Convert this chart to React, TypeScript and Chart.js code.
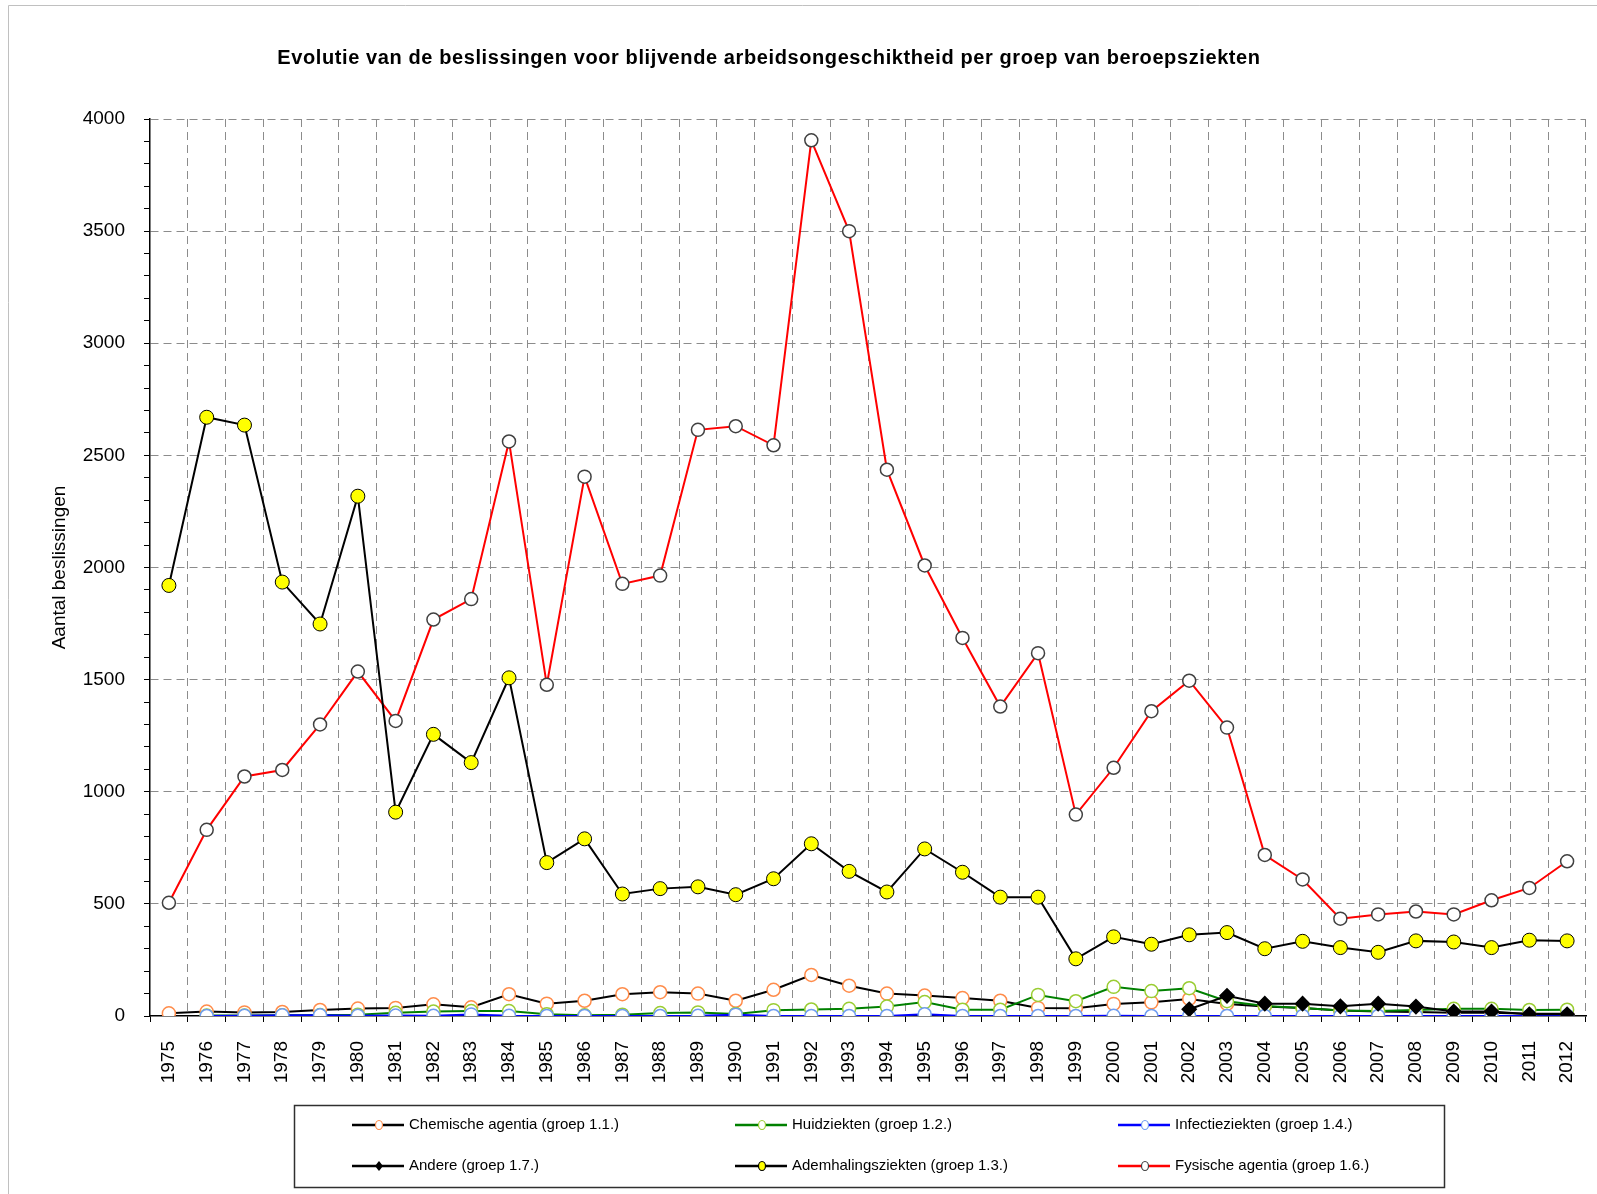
import React, { useEffect, useRef } from 'react';
import { Chart, registerables } from 'chart.js';

Chart.register(...registerables);

const FONT = '"Liberation Sans", Arial, sans-serif';

const chartTitle = 'Evolutie van de beslissingen voor blijvende arbeidsongeschiktheid per groep van beroepsziekten';
const yAxisTitle = 'Aantal beslissingen';

const years = [
  '1975', '1976', '1977', '1978', '1979', '1980', '1981', '1982', '1983', '1984',
  '1985', '1986', '1987', '1988', '1989', '1990', '1991', '1992', '1993', '1994',
  '1995', '1996', '1997', '1998', '1999', '2000', '2001', '2002', '2003', '2004',
  '2005', '2006', '2007', '2008', '2009', '2010', '2011', '2012',
];

const chemische = [
  12, 20, 16, 18, 27, 33, 36, 52, 39, 97,
  55, 68, 97, 106, 100, 68, 117, 183, 135, 100,
  91, 80, 68, 36, 35, 54, 61, 76, 54, 42,
  36, 25, 20, 18, 15, 14, 10, 10,
];

const huidziekten = [
  null, 2, 2, 3, 4, 6, 14, 20, 22, 22,
  8, 3, 6, 13, 16, 9, 26, 29, 32, 42,
  62, 28, 28, 94, 66, 130, 111, 124, 66, 45,
  36, 24, 22, 27, 32, 32, 27, 28,
];

const infectieziekten = [
  null, 0, 1, 3, 3, 1, 2, 1, 7, 1,
  0, 0, 0, 0, 1, 6, 0, 0, 0, 0,
  8, 0, 0, 0, 0, 1, 0, 0, 0, 0,
  0, 0, 0, 0, 0, 0, 0, 0,
];

const andere = [
  null, null, null, null, null, null, null, null, null, null,
  null, null, null, null, null, null, null, null, null, null,
  null, null, null, null, null, null, null, 30, 90, 55,
  55, 43, 55, 42, 20, 20, 8, 8,
];

const ademhalingsziekten = [
  1920, 2670, 2635, 1935, 1748, 2318, 909, 1256, 1130, 1508,
  684, 790, 544, 568, 576, 541, 612, 768, 645, 553,
  745, 641, 530, 530, 255, 353, 320, 362, 372, 300,
  333, 305, 284, 335, 330, 305, 338, 335,
];

const fysischeAgentia = [
  505, 830, 1068, 1097, 1300, 1536, 1316, 1768, 1859, 2562,
  1477, 2405, 1927, 1964, 2614, 2630, 2545, 3905, 3500, 2436,
  2009, 1686, 1380, 1618, 898, 1107, 1359, 1495, 1286, 718,
  609, 434, 453, 466, 453, 516, 571, 690,
];

const legendLabels = [
  'Chemische agentia (groep 1.1.)',
  'Huidziekten (groep 1.2.)',
  'Infectieziekten (groep 1.4.)',
  'Andere (groep 1.7.)',
  'Ademhalingsziekten (groep 1.3.)',
  'Fysische agentia (groep 1.6.)',
];

const yTickMax = 4000;
const yMinorStep = 100;
const yMajorStep = 500;

const framePlugin = {
  id: 'frame',
  beforeDraw(chart: any) {
    const ctx = chart.ctx;
    ctx.save();
    ctx.fillStyle = '#ffffff';
    ctx.fillRect(0, 0, chart.width, chart.height);
    ctx.strokeStyle = '#c0c0c0';
    ctx.lineWidth = 1;
    ctx.beginPath();
    ctx.moveTo(8.5, chart.height);
    ctx.lineTo(8.5, 5.5);
    ctx.lineTo(chart.width, 5.5);
    ctx.stroke();
    ctx.restore();
  },
};

const titlePlugin = {
  id: 'customTitle',
  afterDraw(chart: any) {
    const ctx = chart.ctx;
    ctx.save();
    ctx.fillStyle = '#000000';
    ctx.font = `bold 20px ${FONT}`;
    try {
      (ctx as any).letterSpacing = '0.6px';
    } catch (e) {
      /* ignore */
    }
    ctx.textAlign = 'center';
    ctx.textBaseline = 'middle';
    ctx.fillText(chartTitle, 769, 58);
    ctx.restore();
  },
};

const boxLegendPlugin = {
  id: 'boxLegend',
  afterDraw(chart: any) {
    const ctx = chart.ctx;
    const left = 294.5;
    const top = 1105.5;
    const width = 1150;
    const height = 82;
    ctx.save();
    ctx.strokeStyle = '#303030';
    ctx.lineWidth = 1.5;
    ctx.strokeRect(left, top, width, height);
    const colX = [352, 735, 1118];
    const rowY = [1125, 1166];
    chart.data.datasets.forEach((ds: any, i: number) => {
      const cx = colX[i % 3];
      const cy = rowY[Math.floor(i / 3)];
      ctx.strokeStyle = ds.borderColor;
      ctx.lineWidth = 2.5;
      ctx.beginPath();
      ctx.moveTo(cx, cy);
      ctx.lineTo(cx + 52, cy);
      ctx.stroke();
      const mx = cx + 27;
      ctx.fillStyle = ds.pointBackgroundColor;
      ctx.strokeStyle = ds.pointBorderColor;
      ctx.lineWidth = 1.2;
      if (ds.pointStyle === 'rectRot') {
        ctx.beginPath();
        ctx.moveTo(mx, cy - 5);
        ctx.lineTo(mx + 4, cy);
        ctx.lineTo(mx, cy + 5);
        ctx.lineTo(mx - 4, cy);
        ctx.closePath();
        ctx.fill();
      } else {
        ctx.beginPath();
        ctx.ellipse(mx, cy, 3.5, 4.5, 0, 0, Math.PI * 2);
        ctx.fill();
        ctx.stroke();
      }
      ctx.fillStyle = '#000000';
      ctx.font = `15px ${FONT}`;
      ctx.textAlign = 'left';
      ctx.textBaseline = 'middle';
      ctx.fillText(ds.label, cx + 57, cy);
    });
    ctx.restore();
  },
};

export default function App() {
  const canvasRef = useRef<HTMLCanvasElement | null>(null);

  useEffect(() => {
    const canvas = canvasRef.current;
    if (!canvas) return;
    const common = {
      borderWidth: 2,
      tension: 0,
      pointRadius: 6.5,
      pointBorderWidth: 1.5,
      spanGaps: false,
    };
    const chart = new Chart(canvas, {
      type: 'line',
      data: {
        labels: years,
        datasets: [
          {
            ...common,
            label: legendLabels[0],
            data: chemische,
            borderColor: '#000000',
            pointBackgroundColor: '#ffffff',
            pointBorderColor: '#ff8c4a',
            order: 3,
          },
          {
            ...common,
            label: legendLabels[1],
            data: huidziekten,
            borderColor: '#008000',
            pointBackgroundColor: '#ffffff',
            pointBorderColor: '#9acd32',
            order: 2,
          },
          {
            ...common,
            label: legendLabels[2],
            data: infectieziekten,
            borderColor: '#0000ff',
            pointBackgroundColor: '#ffffff',
            pointBorderColor: '#6f9cf0',
            order: 1,
          },
          {
            ...common,
            label: legendLabels[3],
            data: andere,
            borderColor: '#000000',
            pointBackgroundColor: '#000000',
            pointBorderColor: '#000000',
            pointStyle: 'rectRot',
            pointRadius: 7,
            order: 0,
          },
          {
            ...common,
            label: legendLabels[4],
            data: ademhalingsziekten,
            borderColor: '#000000',
            pointBackgroundColor: '#ffff00',
            pointBorderColor: '#000000',
            pointBorderWidth: 1,
            pointRadius: 7,
            order: 4,
          },
          {
            ...common,
            label: legendLabels[5],
            data: fysischeAgentia,
            borderColor: '#ff0000',
            pointBackgroundColor: '#ffffff',
            pointBorderColor: '#404040',
            order: 5,
          },
        ] as any,
      },
      options: {
        responsive: false,
        animation: false,
        events: [],
        devicePixelRatio: 1,
        layout: { padding: { left: 44, right: 11, top: 119, bottom: 78 } },
        plugins: {
          legend: { display: false },
          title: { display: false },
          tooltip: { enabled: false },
        },
        scales: {
          x: {
            type: 'category',
            offset: true,
            grid: {
              offset: true,
              color: (ctx: any) => (ctx.index === 0 ? 'rgba(0,0,0,0)' : '#8c8c8c'),
              lineWidth: 1,
              drawTicks: true,
              tickLength: 6,
              tickColor: '#000000',
              tickWidth: 1,
            },
            border: { display: true, color: '#000000', width: 1.5, dash: [8, 5] },
            ticks: {
              autoSkip: false,
              maxRotation: 90,
              minRotation: 90,
              padding: 19,
              color: '#000000',
              font: { family: FONT, size: 19 },
            },
            afterFit: (scale: any) => {
              scale.height = 100;
              scale.paddingLeft = 0;
              scale.paddingRight = 0;
            },
          },
          y: {
            type: 'linear',
            min: 0,
            max: yTickMax,
            grid: {
              color: (ctx: any) => {
                const v = ctx.tick ? ctx.tick.value : 0;
                return v !== 0 && v % yMajorStep === 0 ? '#8c8c8c' : 'rgba(0,0,0,0)';
              },
              lineWidth: 1,
              drawTicks: true,
              tickLength: 6,
              tickColor: '#000000',
              tickWidth: 1,
            },
            border: { display: true, color: '#000000', width: 1.5, dash: [8, 5] },
            ticks: {
              stepSize: yMinorStep,
              autoSkip: false,
              padding: 19,
              color: '#000000',
              font: { family: FONT, size: 19 },
              callback: (value: any) => (Number(value) % yMajorStep === 0 ? String(value) : ''),
            },
            title: {
              display: true,
              text: yAxisTitle,
              color: '#000000',
              font: { family: FONT, size: 19 },
              padding: { top: 4, bottom: 4 },
            },
            afterFit: (scale: any) => {
              scale.width = 106;
              scale.paddingTop = 0;
              scale.paddingBottom = 0;
            },
          },
        },
      } as any,
      plugins: [framePlugin, titlePlugin, boxLegendPlugin],
    });
    return () => chart.destroy();
  }, []);

  return (
    <div style={{ position: 'fixed', left: 0, top: 0, width: 1597, height: 1194, background: '#ffffff' }}>
      <canvas ref={canvasRef} width={1597} height={1194} style={{ width: 1597, height: 1194, display: 'block' }} />
    </div>
  );
}
